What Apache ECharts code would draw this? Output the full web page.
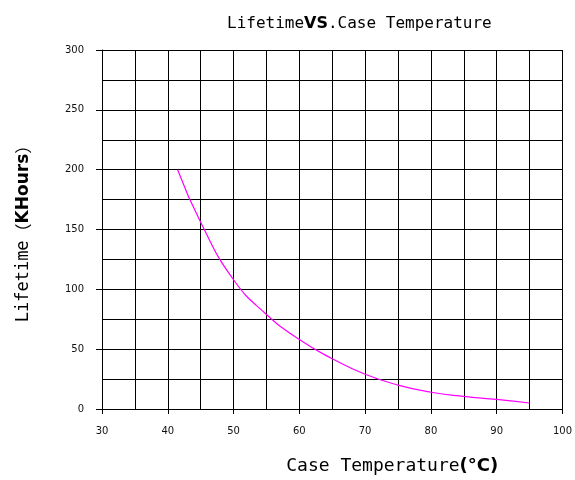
<!DOCTYPE html>
<html>
<head>
<meta charset="utf-8">
<script src="https://cdn.jsdelivr.net/npm/echarts@6/dist/echarts.min.js"></script>
<style>html,body{margin:0;padding:0;background:#fff;}#c{width:575px;height:480px;}</style>
</head>
<body>
<div id="c"></div>
<script>
var temperature = [41.5, 45, 50, 55, 60, 65, 70, 75, 80, 85, 90, 95];
var lifetime    = [200, 156, 108, 79, 58, 42, 29, 20, 14, 10.5, 8, 5];
var xTicks = [30, 40, 50, 60, 70, 80, 90, 100];
var yTicks = [0, 50, 100, 150, 200, 250, 300];

var mono = '"DejaVu Sans Mono", "Liberation Mono", monospace';
var sans = '"DejaVu Sans", "Noto Sans", sans-serif';
var points = temperature.map(function (t, i) { return [t, lifetime[i]]; });

var chart = echarts.init(document.getElementById('c'));
chart.setOption({
  backgroundColor: '#fff',
  animation: false,
  title: {
    text: '{a|Lifetime}{b|VS}{a|.Case Temperature}',
    left: 222, top: 11,
    textStyle: {
      fontWeight: 'normal',
      rich: {
        a: { fontFamily: mono, fontSize: 16, fontWeight: 'normal', color: '#000' },
        b: { fontFamily: sans, fontSize: 16, fontWeight: 'bold', color: '#000' }
      }
    }
  },
  grid: { left: 102, right: 12, top: 50, bottom: 69, containLabel: false },
  xAxis: {
    type: 'value',
    min: xTicks[0], max: xTicks[xTicks.length - 1], interval: 10,
    name: '{a|Case Temperature}{b|(°C)}',
    nameLocation: 'middle', nameGap: 48,
    nameTextStyle: {
      padding: [0, 0, 0, 120],
      rich: {
        a: { fontFamily: mono, fontSize: 18, fontWeight: 'normal', color: '#000' },
        b: { fontFamily: sans, fontSize: 18, fontWeight: 'bold', color: '#000' }
      }
    },
    axisLine: { show: true, lineStyle: { color: '#000', width: 1 } },
    axisTick: { show: true, inside: false, length: 5, lineStyle: { color: '#000' } },
    axisLabel: { margin: 17, fontFamily: sans, fontSize: 10, color: '#111' },
    splitLine: { show: true, lineStyle: { color: '#000', width: 1 } },
    minorTick: { show: false, splitNumber: 2 },
    minorSplitLine: { show: true, lineStyle: { color: '#000', width: 1 } }
  },
  yAxis: {
    type: 'value',
    min: yTicks[0], max: yTicks[yTicks.length - 1], interval: 50,
    name: '{a|Lifetime}{p|（}{b|KHours}{p|）}',
    nameLocation: 'middle', nameGap: 70,
    nameTextStyle: {
      rich: {
        a: { fontFamily: mono, fontSize: 17, fontWeight: 'normal', color: '#000' },
        p: { fontFamily: '"Noto Sans CJK SC", sans-serif', fontSize: 17, color: '#000' },
        b: { fontFamily: sans, fontSize: 17, fontWeight: 'bold', color: '#000' }
      }
    },
    axisLine: { show: true, lineStyle: { color: '#000', width: 1 } },
    axisTick: { show: true, inside: false, length: 6, lineStyle: { color: '#000' } },
    axisLabel: { margin: 18, fontFamily: sans, fontSize: 10, color: '#111' },
    splitLine: { show: true, lineStyle: { color: '#000', width: 1 } },
    minorTick: { show: false, splitNumber: 2 },
    minorSplitLine: { show: true, lineStyle: { color: '#000', width: 1 } }
  },
  series: [{
    type: 'line',
    data: points,
    smooth: 0.5,
    symbol: 'none',
    lineStyle: { color: '#ff00ff', width: 1.2 }
  }]
});
</script>
</body>
</html>
